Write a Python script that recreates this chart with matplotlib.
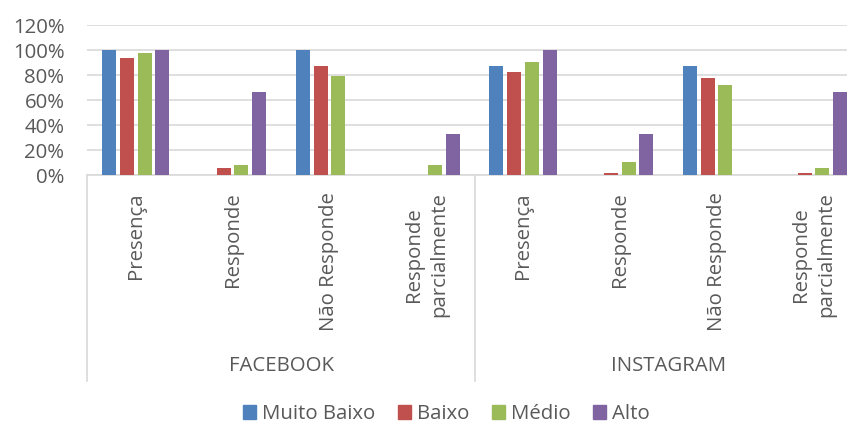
import matplotlib
matplotlib.use("Agg")
import matplotlib.pyplot as plt
from matplotlib.ticker import PercentFormatter
from matplotlib.patches import Patch
import numpy as np

plt.rcParams['font.family'] = ['Open Sans', 'DejaVu Sans']

# dados
grupos = ["FACEBOOK", "INSTAGRAM"]
categorias = ["Presença", "Responde", "Não Responde", "Responde\nparcialmente"] * 2
series = ["Muito Baixo", "Baixo", "Médio", "Alto"]
muito_baixo = [1.00, 0.0, 1.00, 0.0, 0.872, 0.0, 0.872, 0.0]
baixo = [0.94, 0.061, 0.872, 0.0, 0.827, 0.016, 0.779, 0.016]
medio = [0.976, 0.085, 0.79, 0.085, 0.907, 0.107, 0.723, 0.061]
alto = [1.00, 0.667, 0.0, 0.333, 1.00, 0.333, 0.0, 0.667]
cores = ["#4F81BD", "#C0504D", "#9BBB59", "#8064A2"]

texto = "#595959"
grade = "#D9D9D9"
fs = 14.7

fig = plt.figure(figsize=(8.47, 4.25), dpi=100)
ax = fig.add_axes([0.1032, 0.5875, 0.9143, 0.3536])

x = np.arange(len(categorias))
passo = 0.183
for i, (vals, cor) in enumerate(zip([muito_baixo, baixo, medio, alto], cores)):
    ax.bar(x + (i - 1.5) * passo, vals, width=0.145, color=cor, zorder=3)

ax.set_xlim(-0.5, 7.5)
ax.set_ylim(0, 1.2)
ax.set_yticks(np.arange(0, 1.21, 0.2))
ax.yaxis.set_major_formatter(PercentFormatter(1.0, decimals=0))
ax.grid(axis='y', color=grade, linewidth=1.2, zorder=0)
ax.set_xticks([])
ax.tick_params(axis='y', length=0, pad=16.5, labelsize=fs, labelcolor=texto)
for s in ['top', 'right', 'left']:
    ax.spines[s].set_visible(False)
ax.spines['bottom'].set_color(grade)
ax.spines['bottom'].set_linewidth(1.2)

# rotulos das categorias
trans = ax.get_xaxis_transform()
for xi, cat in zip(x, categorias):
    ax.text(xi, -0.112, cat, rotation=90, ha='center', va='top',
            multialignment='center', linespacing=1.35,
            fontsize=fs, color=texto, transform=trans)

# grupos e separadores
for g, nome in enumerate(grupos):
    ax.text(g * 4 + 1.5, -1.272, nome, ha='center', va='center',
            fontsize=fs, color=texto, transform=trans)
for xs in [-0.5, 3.5, 7.5]:
    ax.plot([xs, xs], [0, -1.37], color=grade, linewidth=1.2,
            transform=trans, clip_on=False)

handles = [Patch(color=c, label=s) for c, s in zip(cores, series)]
fig.legend(handles=handles, loc='center', bbox_to_anchor=(0.527, 0.026),
           ncol=4, frameon=False, fontsize=fs, labelcolor=texto,
           handlelength=0.66, handleheight=0.66, handletextpad=0.28,
           columnspacing=1.1, borderpad=0)

fig.savefig("out.png", dpi=100)
